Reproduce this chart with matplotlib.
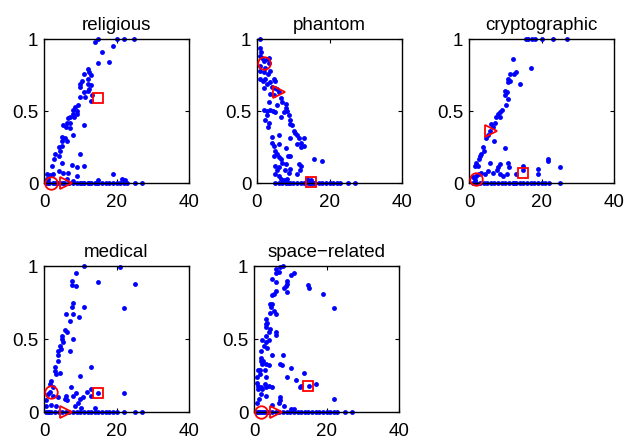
import matplotlib
matplotlib.use("Agg")
import matplotlib.pyplot as plt
import numpy as np

plt.rcParams['font.family'] = ['Liberation Sans', 'DejaVu Sans']

titles = ["religious", "phantom", "cryptographic", "medical", "space\u2212related"]

# ---- religious ----
rel_x = [14.1, 15.0, 20.1, 22.1, 24.9, 19.1, 15.9, 14.8, 18.0,
         12.0, 12.5, 12.9, 10.9, 12.0, 10.4, 12.2, 9.9, 12.9, 9.9, 12.5, 12.0, 11.3, 9.9, 13.2, 12.9, 10.9,
         9.3, 8.6, 8.1, 9.0, 7.9, 9.0, 8.3, 7.2, 6.7, 7.2, 6.3, 6.1, 7.2, 5.3, 8.1, 11.0, 4.9, 5.8, 6.3, 4.9,
         4.0, 4.4, 4.9, 3.0, 4.0, 4.9, 2.8, 2.1, 9.9, 7.6, 11.0, 9.0, 9.2, 6.7, 5.3, 4.0, 2.6, 1.7, 0.9, 0.7,
         1.2, 19.1, 21.4, 22.4, 7.9, 6.3, 15.0,
         0.5, 1, 1.5, 2.5, 3, 3.5, 4, 5, 5.5, 7, 8, 9, 10, 10.5, 11, 12, 12.5, 13, 14, 14.5, 15, 16, 17, 18,
         19, 20, 21, 22, 23, 25, 27]
rel_y = [0.98, 1.0, 1.0, 1.0, 1.0, 0.95, 0.91, 0.83, 0.84,
         0.79, 0.77, 0.75, 0.76, 0.72, 0.71, 0.69, 0.69, 0.68, 0.67, 0.65, 0.64, 0.60, 0.60, 0.61, 0.57, 0.63,
         0.54, 0.53, 0.51, 0.50, 0.48, 0.48, 0.46, 0.46, 0.45, 0.42, 0.42, 0.39, 0.38, 0.40, 0.33, 0.40, 0.32,
         0.31, 0.29, 0.29, 0.25, 0.22, 0.26, 0.20, 0.19, 0.14, 0.17, 0.12, 0.20, 0.125, 0.12, 0.11, 0.05, 0.07,
         0.07, 0.085, 0.06, 0.055, 0.06, 0.03, 0.03, 0.06, 0.03, 0.02, 0.015, 0.03, 0.02,
         0, 0, 0, 0, 0, 0, 0, 0, 0, 0, 0, 0, 0, 0, 0, 0, 0, 0, 0, 0, 0, 0, 0, 0, 0, 0, 0, 0, 0, 0, 0]

# ---- phantom ----
pha_x = [0.9, 0.9, 1.1, 0.7, 1.4, 1.8, 2.8, 3.2, 0.9, 2.3, 3.2, 0.9, 1.8, 3.0, 3.7, 0.9, 1.7, 2.3, 2.8,
         2.0, 3.5, 4.6, 5.1, 4.2, 5.1, 5.5, 6.0, 3.7, 4.6, 6.5, 6.9, 7.9, 8.1, 8.3, 7.4, 5.5, 3.2, 1.8,
         2.8, 3.7, 4.4, 5.1, 2.8, 2.3, 3.2, 3.0, 6.7, 8.8, 9.1, 9.2, 9.7, 10.2, 10.6, 10.9, 11.6, 12.9,
         12.0, 13.1, 12.0, 11.1, 9.2, 6.0, 4.0, 4.2, 4.6, 6.0, 5.1, 5.5, 4.6, 6.0, 8.1, 8.5, 9.2, 6.5,
         6.9, 7.9, 9.2, 8.8, 7.6, 6.0, 5.1, 5.5, 6.0, 5.1, 6.5, 7.4, 8.3, 11.6, 12.2, 11.9, 11.1, 15.7,
         18.0, 13.9, 14.8,
         5, 6, 7, 8, 8.5, 9, 10, 11, 12, 13, 14, 14.5, 15, 15.5, 16, 17, 18, 19, 20, 21, 22, 23, 25, 27]
pha_y = [1.0, 0.94, 0.91, 0.88, 0.87, 0.85, 0.86, 0.87, 0.81, 0.80, 0.83, 0.78, 0.77, 0.76, 0.78, 0.72,
         0.71, 0.72, 0.69, 0.66, 0.70, 0.72, 0.71, 0.67, 0.66, 0.65, 0.63, 0.62, 0.61, 0.59, 0.56, 0.55,
         0.52, 0.50, 0.49, 0.54, 0.56, 0.51, 0.50, 0.51, 0.50, 0.49, 0.47, 0.44, 0.42, 0.39, 0.46, 0.47,
         0.44, 0.41, 0.40, 0.36, 0.35, 0.33, 0.31, 0.31, 0.28, 0.26, 0.25, 0.27, 0.31, 0.33, 0.32, 0.28,
         0.26, 0.27, 0.22, 0.20, 0.19, 0.18, 0.24, 0.19, 0.19, 0.17, 0.14, 0.13, 0.10, 0.07, 0.09, 0.11,
         0.12, 0.09, 0.05, 0.06, 0.03, 0.02, 0.03, 0.13, 0.12, 0.09, 0.06, 0.17, 0.15, 0.03, 0.02,
         0, 0, 0, 0, 0, 0, 0, 0, 0, 0, 0, 0, 0, 0, 0, 0, 0, 0, 0, 0, 0, 0, 0, 0]

# ---- cryptographic ----
cry_x = [15.7, 16.4, 17.3, 18.2, 20.1, 23.1, 27.0, 12.0, 17.0, 13.1, 12.5, 11.3, 10.8, 11.4, 10.8, 14.1,
         9.9, 10.6, 9.9, 10.8, 10.2, 9.0, 8.5, 8.1, 7.4, 8.5, 7.1, 6.2, 6.7, 5.7, 5.3, 6.9, 4.8, 3.9, 4.1,
         3.4, 3.0, 2.8, 2.0, 1.6, 2.5, 5.9, 9.9, 8.5, 10.8, 11.1, 15.0, 15.0, 18.9, 18.9, 21.9, 21.9, 25.0,
         8.1, 7.6, 6.5, 5.3, 4.4, 3.4, 2.8, 1.9, 1.1, 1.6, 9.4, 10.6, 8.5, 13.1,
         1, 2, 3, 4, 5, 6, 7, 8, 9, 10, 11, 12, 12.5, 13, 14, 15, 16, 17, 18, 19, 20, 21, 22, 25]
cry_y = [1, 1, 1, 1, 1, 1, 1, 0.86, 0.80, 0.77, 0.76, 0.76, 0.72, 0.71, 0.70, 0.69, 0.64, 0.63, 0.61,
         0.58, 0.54, 0.51, 0.49, 0.48, 0.46, 0.46, 0.42, 0.41, 0.39, 0.36, 0.33, 0.29, 0.31, 0.25, 0.22,
         0.20, 0.19, 0.17, 0.14, 0.12, 0.12, 0.14, 0.24, 0.13, 0.14, 0.11, 0.12, 0.09, 0.10, 0.06, 0.17,
         0.155, 0.11, 0.11, 0.09, 0.07, 0.08, 0.06, 0.07, 0.06, 0.05, 0.04, 0.02, 0.05, 0.06, 0.06, 0.06,
         0, 0, 0, 0, 0, 0, 0, 0, 0, 0, 0, 0, 0, 0, 0, 0, 0, 0, 0, 0, 0, 0, 0, 0]

# ---- medical ----
med_x = [10.9, 20.9, 8.9, 14.9, 25.0, 7.8, 7.8, 8.9, 8.0, 7.8, 10.9, 22.0, 6.0, 8.0, 7.1, 9.7, 5.7, 6.3,
         5.1, 5.1, 5.2, 8.0, 4.3, 3.9, 4.8, 3.9, 3.9, 7.1, 2.9, 2.9, 3.2, 4.3, 2.0, 1.7, 2.5, 1.6, 1.1,
         2.5, 3.9, 13.1, 9.8, 7.5, 8.7, 8.0, 6.2, 5.7, 6.4, 9.8, 10.8, 11.9, 13.1, 12.9, 22.0, 14.9, 0.6,
         0.6, 2.0, 3.4, 8.5, 10.3, 14.0, 9.4,
         0.5, 1, 1.5, 2, 3, 4, 5, 6, 7, 8, 9, 10, 11, 12, 13, 14, 15, 16, 17, 18, 19, 20, 22, 25, 27]
med_y = [1.0, 0.99, 0.95, 0.89, 0.88, 0.90, 0.87, 0.86, 0.75, 0.72, 0.72, 0.71, 0.67, 0.67, 0.62, 0.65,
         0.56, 0.55, 0.52, 0.50, 0.48, 0.50, 0.45, 0.42, 0.43, 0.39, 0.35, 0.42, 0.31, 0.28, 0.26, 0.27,
         0.21, 0.19, 0.17, 0.14, 0.12, 0.11, 0.10, 0.31, 0.25, 0.17, 0.13, 0.11, 0.11, 0.09, 0.08, 0.09,
         0.10, 0.14, 0.16, 0.11, 0.13, 0.13, 0.08, 0.04, 0.05, 0.04, 0.04, 0.03, 0.025, 0.06,
         0, 0, 0, 0, 0, 0, 0, 0, 0, 0, 0, 0, 0, 0, 0, 0, 0, 0, 0, 0, 0, 0, 0, 0, 0]

# ---- space-related ----
spa_x = [8.1, 7.2, 6.0, 6.0, 6.9, 10.1, 11.0, 5.0, 6.0, 9.2, 9.2, 8.7, 8.3, 9.2, 6.2, 5.5, 5.0, 14.9,
         15.1, 19.1, 22.0, 4.4, 5.0, 4.6, 5.5, 4.4, 6.0, 3.2, 3.7, 3.2, 4.4, 3.2, 4.1, 6.2, 6.2, 3.2, 2.3,
         3.2, 4.1, 2.8, 3.5, 1.8, 5.0, 8.1, 2.0, 1.8, 2.6, 2.3, 3.2, 7.2, 7.8, 4.1, 10.1, 1.1, 1.7, 2.9,
         1.7, 0.9, 3.2, 9.0, 13.9, 11.7, 0.9, 2.9, 4.1, 5.0, 1.1, 1.1, 1.8, 2.3, 3.2, 13.0, 12.7, 15.1,
         17.1, 1.8, 3.2, 1.4, 7.2, 7.3, 6.9, 22.0, 0.9, 5.0, 8.4, 10.1, 11.0,
         0.5, 1, 1.5, 2, 2.5, 3, 3.5, 4, 5, 6, 7, 8, 9, 10, 11, 12, 13, 14, 15, 16, 17, 18, 19, 20, 21,
         22, 23, 25, 27]
spa_y = [1.0, 0.99, 0.98, 0.95, 0.96, 0.94, 0.95, 0.91, 0.89, 0.90, 0.88, 0.86, 0.85, 0.82, 0.83, 0.81,
         0.80, 0.87, 0.85, 0.81, 0.71, 0.74, 0.74, 0.72, 0.69, 0.68, 0.67, 0.64, 0.61, 0.60, 0.57, 0.58,
         0.55, 0.55, 0.53, 0.52, 0.49, 0.48, 0.49, 0.45, 0.44, 0.42, 0.39, 0.39, 0.37, 0.35, 0.35, 0.33,
         0.33, 0.33, 0.32, 0.32, 0.30, 0.29, 0.29, 0.29, 0.26, 0.24, 0.24, 0.24, 0.27, 0.22, 0.20, 0.19,
         0.18, 0.17, 0.18, 0.16, 0.17, 0.16, 0.17, 0.18, 0.17, 0.18, 0.19, 0.12, 0.11, 0.09, 0.10, 0.08,
         0.06, 0.09, 0.06, 0.05, 0.04, 0.02, 0.02,
         0, 0, 0, 0, 0, 0, 0, 0, 0, 0, 0, 0, 0, 0, 0, 0, 0, 0, 0, 0, 0, 0, 0, 0, 0, 0, 0, 0, 0]

# red reference markers: circle, right-triangle, square
circ_x = [2, 2, 2, 2, 2]
circ_y = [0.0, 0.83, 0.03, 0.14, 0.0]
tri_x = [6, 6, 6, 6, 6]
tri_y = [0.0, 0.63, 0.36, 0.0, 0.0]
sq_x = [15, 15, 15, 15, 15]
sq_y = [0.59, 0.01, 0.07, 0.13, 0.18]

xs = [rel_x, pha_x, cry_x, med_x, spa_x]
ys = [rel_y, pha_y, cry_y, med_y, spa_y]

x_ticks = [0, 20, 40]
y_ticks = [0, 0.5, 1]
y_ticklabels = ["0", "0.5", "1"]

fig = plt.figure(figsize=(6.27, 4.39), dpi=100)
W, H = 627, 439
boxes = [(44, 40, 145, 144), (257, 40, 145, 144), (469, 40, 145, 144),
         (44, 267, 145, 146), (254, 267, 145, 146)]

for i in range(5):
    l, t, w, h = boxes[i]
    ax = fig.add_axes([l / W, 1 - (t + h) / H, w / W, h / H])
    ax.plot(xs[i], ys[i], 'o', color='#0000ff', markersize=3.5, markeredgewidth=0, zorder=2, clip_on=False)
    ax.plot(circ_x[i], circ_y[i], 'o', mfc='none', mec='red', markersize=9, mew=1.3, zorder=3, clip_on=False)
    ax.plot(tri_x[i], tri_y[i], '>', mfc='none', mec='red', markersize=9, mew=1.3, zorder=3, clip_on=False)
    ax.plot(sq_x[i], sq_y[i], 's', mfc='none', mec='red', markersize=7.5, mew=1.3, zorder=3, clip_on=False)
    ax.set_xlim(0, 40)
    ax.set_ylim(0, 1)
    ax.set_xticks(x_ticks)
    ax.set_yticks(y_ticks)
    ax.set_yticklabels(y_ticklabels)
    ax.tick_params(direction='in', length=3, width=0.8, top=True, right=True, labelsize=13.5)
    ax.tick_params(axis='x', pad=7)
    ax.tick_params(axis='y', pad=4)
    for s in ax.spines.values():
        s.set_linewidth(1.0)
    ax.set_title(titles[i], fontsize=13.5, pad=7)

fig.savefig("out.png", dpi=100)
